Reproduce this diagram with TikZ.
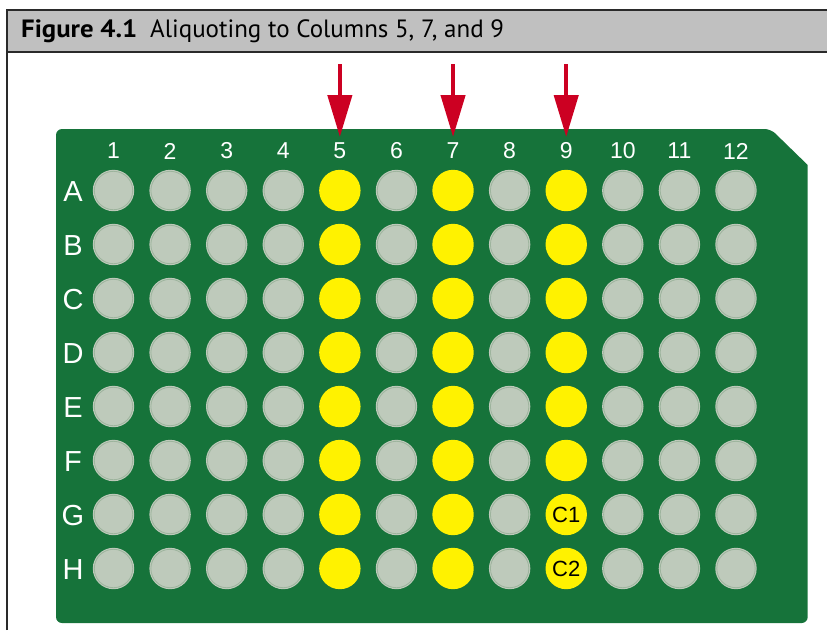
\documentclass[tikz,border=0pt]{standalone}
\usepackage{fontspec}
\setmainfont{Liberation Sans}
\newfontfamily\headfont{PT Sans}
\usetikzlibrary{arrows.meta}
\definecolor{plategreen}{HTML}{16733A}
\definecolor{wellgray}{HTML}{BECABB}
\definecolor{wellring}{HTML}{9DB49D}
\definecolor{wellyellow}{HTML}{FFF200}
\definecolor{arrowred}{HTML}{CC0022}
\definecolor{headgray}{HTML}{C0C0C0}
\definecolor{framedark}{HTML}{2A2A2A}
\tikzset{
  well/.style={circle, fill=wellgray, minimum size=41.4pt, inner sep=0pt},
  ywell/.style={circle, fill=wellyellow, minimum size=41.4pt, inner sep=0pt, font=\fontsize{22}{22}\selectfont, text=black},
  ring/.style={draw=wellring, line width=0.8pt},
  collabel/.style={text=white, font=\fontsize{23}{23}\selectfont, inner sep=0pt},
  rowlabel/.style={text=white, font=\fontsize{29}{29}\selectfont, inner sep=0pt},
  redarrow/.style={draw=arrowred, line width=4.3pt, -{Triangle[length=42pt, width=24pt]}},
}
\begin{document}
\begin{tikzpicture}[x=1pt, y=-1pt]
\useasboundingbox (0,0) rectangle (827,630);
% header
\fill[headgray] (7,10) rectangle (830,52);
\draw[framedark, line width=1.8pt] (7,630) -- (7,10) -- (830,10);
\draw[framedark, line width=1.2pt] (7,52) -- (830,52);
\node[anchor=base west, inner sep=0pt, xscale=1.07, font=\headfont\bfseries\fontsize{25}{25}\selectfont] (figno) at (21,37) {Figure 4.1};
\node[anchor=base west, inner sep=0pt, font=\headfont\fontsize{25}{25}\selectfont] (title) at (150,37) {Aliquoting to Columns 5, 7, and 9};
% plate
\fill[plategreen] (56,400) [rounded corners=6pt] -- (56,129) -- (770.7,129) [sharp corners] -- (807.7,165) -- (807.7,400) [rounded corners=6pt] -- (807.7,623) -- (56,623) -- cycle;
% column labels
\foreach \c in {1,...,12} {
  \pgfmathsetmacro{\xx}{113.5+(\c-1)*56.59}
  \node[collabel] (col\c) at (\xx,151) {\c};
}
% row labels and wells
\foreach \r [count=\i from 0] in {A,B,C,D,E,F,G,H} {
  \pgfmathsetmacro{\yy}{190.5+\i*54}
  \node[rowlabel] (row\r) at (73,\yy+1.5) {\r};
  \foreach \c in {1,...,12} {
    \pgfmathsetmacro{\xx}{113.5+(\c-1)*56.59}
    \ifnum\c=5
      \node[ywell] (w\r\c) at (\xx,\yy) {};
    \else\ifnum\c=7
      \node[ywell] (w\r\c) at (\xx,\yy) {};
    \else\ifnum\c=9
      \node[ywell] (w\r\c) at (\xx,\yy) {};
    \else
      \node[well] (w\r\c) at (\xx,\yy) {};
      \draw[ring] (w\r\c.center) circle (19.2pt);
    \fi\fi\fi
  }
}
\node[inner sep=0pt, font=\fontsize{22}{22}\selectfont] (c1) at (wG9) {C1};
\node[inner sep=0pt, font=\fontsize{22}{22}\selectfont] (c2) at (wH9) {C2};
% arrows
\foreach \c in {5,7,9} {
  \pgfmathsetmacro{\xx}{113.5+(\c-1)*56.59}
  \coordinate (top\c) at (\xx,64);
  \coordinate (tip\c) at (\xx,137);
  \draw[redarrow] (top\c) -- (tip\c);
}
\end{tikzpicture}
\end{document}
